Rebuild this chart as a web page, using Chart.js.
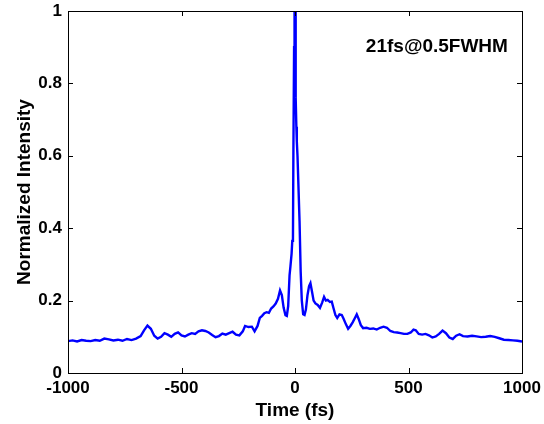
<!DOCTYPE html>
<html>
<head>
<meta charset="utf-8">
<script src="https://cdn.jsdelivr.net/npm/chart.js@4/dist/chart.umd.min.js"></script>
<style>
  html, body { margin: 0; padding: 0; background: #fff; }
  #wrap { width: 544px; height: 424px; }
</style>
</head>
<body>
<div id="wrap"><canvas id="ac-canvas" width="544" height="424"></canvas></div>
<script>
// time delay (fs)
var timeFs = [
  -1000, -980, -960, -940, -920, -900, -880, -860, -840, -820, -800, -780, -760, -740, -720, -700,
  -680, -665, -650, -635, -620, -605, -590, -575, -560, -545, -530, -515, -500, -485, -470, -455,
  -440, -425, -410, -395, -380, -365, -350, -335, -320, -305, -290, -275, -260, -245, -230, -220,
  -205, -190, -178, -165, -155, -145, -135, -125, -115, -105, -95, -85, -75, -66, -58, -50,
  -42, -36, -30, -24, -20, -15, -12, -9, -7, -4, -2, 0, 2, 4, 6, 8,
  11, 15, 20, 25, 30, 36, 42, 48, 55, 62, 68, 74, 82, 90, 100, 110,
  120, 128, 136, 144, 154, 162, 170, 178, 186, 196, 206, 214, 224, 234, 244, 254,
  264, 272, 280, 290, 300, 315, 330, 345, 360, 375, 390, 405, 420, 435, 450, 465,
  480, 495, 510, 522, 532, 545, 560, 575, 590, 605, 620, 635, 650, 665, 680, 695,
  710, 725, 740, 760, 780, 800, 820, 840, 860, 880, 900, 920, 940, 960, 980, 1000
];
// normalized intensity
var intensity = [
  0.088, 0.090, 0.087, 0.091, 0.089, 0.088, 0.091, 0.089, 0.095, 0.093, 0.090, 0.092, 0.089, 0.094, 0.091, 0.095,
  0.102, 0.118, 0.131, 0.122, 0.103, 0.095, 0.100, 0.110, 0.106, 0.100, 0.108, 0.112, 0.104, 0.101, 0.106, 0.110,
  0.108, 0.115, 0.118, 0.116, 0.112, 0.105, 0.099, 0.102, 0.109, 0.106, 0.110, 0.114, 0.106, 0.104, 0.115, 0.130,
  0.127, 0.128, 0.115, 0.130, 0.152, 0.158, 0.165, 0.168, 0.166, 0.178, 0.184, 0.192, 0.205, 0.228, 0.215, 0.180,
  0.160, 0.158, 0.185, 0.270, 0.295, 0.330, 0.365, 0.370, 0.620, 0.900, 1.000, 1.000, 0.840, 0.760, 0.680, 0.640,
  0.600, 0.520, 0.420, 0.280, 0.200, 0.162, 0.160, 0.175, 0.215, 0.240, 0.248, 0.228, 0.200, 0.192, 0.188, 0.180,
  0.195, 0.210, 0.200, 0.202, 0.196, 0.197, 0.178, 0.160, 0.152, 0.162, 0.160, 0.150, 0.135, 0.122, 0.130, 0.140,
  0.152, 0.162, 0.150, 0.132, 0.124, 0.125, 0.122, 0.123, 0.120, 0.125, 0.128, 0.125, 0.116, 0.113, 0.112, 0.110,
  0.108, 0.108, 0.112, 0.120, 0.118, 0.108, 0.106, 0.108, 0.104, 0.098, 0.101, 0.108, 0.117, 0.110, 0.098, 0.094,
  0.103, 0.107, 0.102, 0.101, 0.103, 0.101, 0.099, 0.100, 0.102, 0.100, 0.096, 0.092, 0.091, 0.090, 0.089, 0.087
];
var xTicks = [-1000, -500, 0, 500, 1000];
var yTicks = [0, 0.2, 0.4, 0.6, 0.8, 1];
var noteText = '21fs@0.5FWHM';

var points = timeFs.map(function (t, i) { return { x: t, y: intensity[i] }; });
var boldFont = "'Liberation Sans', Arial, sans-serif";

// box around the plot with inward ticks, plus the FWHM note
var frame = {
  id: 'frame',
  afterDraw: function (chart) {
    var c = chart.ctx, a = chart.chartArea;
    var xs = chart.scales.x, ys = chart.scales.y;
    c.save();
    c.strokeStyle = '#000';
    c.lineWidth = 1;
    c.strokeRect(a.left + 0.5, a.top + 0.5, a.right - a.left, a.bottom - a.top);
    c.beginPath();
    xTicks.forEach(function (v) {
      var px = Math.round(xs.getPixelForValue(v)) + 0.5;
      c.moveTo(px, a.bottom); c.lineTo(px, a.bottom - 5);
      c.moveTo(px, a.top); c.lineTo(px, a.top + 5);
    });
    yTicks.forEach(function (v) {
      var py = Math.round(ys.getPixelForValue(v)) + 0.5;
      c.moveTo(a.left, py); c.lineTo(a.left + 5, py);
      c.moveTo(a.right, py); c.lineTo(a.right - 5, py);
    });
    c.stroke();
    c.fillStyle = '#000';
    c.font = 'bold 19px ' + boldFont;
    c.textAlign = 'center';
    c.textBaseline = 'middle';
    c.fillText(noteText, xs.getPixelForValue(625), ys.getPixelForValue(0.9));
    c.restore();
  }
};

new Chart(document.getElementById('ac-canvas'), {
  type: 'line',
  data: {
    datasets: [{
      data: points,
      borderColor: '#0000ff',
      borderWidth: 2.4,
      pointRadius: 0,
      tension: 0,
      fill: false
    }]
  },
  options: {
    responsive: false,
    animation: false,
    layout: { autoPadding: false, padding: { top: 11, right: 22, left: 0, bottom: 0 } },
    plugins: { legend: { display: false }, tooltip: { enabled: false } },
    scales: {
      x: {
        type: 'linear',
        min: -1000, max: 1000,
        afterBuildTicks: function (s) { s.ticks = xTicks.map(function (v) { return { value: v }; }); },
        afterFit: function (s) { s.height = 51; s.paddingLeft = 0; s.paddingRight = 0; },
        grid: { display: false, drawTicks: false },
        border: { display: false },
        ticks: { color: '#000', padding: 5, maxRotation: 0, font: { family: boldFont, size: 17, weight: 'bold' },
                 callback: function (v) { return String(v); } },
        title: { display: true, text: 'Time (fs)', color: '#000', padding: { top: 0, bottom: 2 },
                 font: { family: boldFont, size: 19, weight: 'bold' } }
      },
      y: {
        min: 0, max: 1,
        afterBuildTicks: function (s) { s.ticks = yTicks.map(function (v) { return { value: v }; }); },
        afterFit: function (s) { s.width = 68; s.paddingTop = 0; s.paddingBottom = 0; },
        grid: { display: false, drawTicks: false },
        border: { display: false },
        ticks: { color: '#000', padding: 6, font: { family: boldFont, size: 17, weight: 'bold' },
                 callback: function (v) { return String(v); } },
        title: { display: true, text: 'Normalized Intensity', color: '#000', padding: { top: 13, bottom: 0 },
                 font: { family: boldFont, size: 19, weight: 'bold' } }
      }
    }
  },
  plugins: [frame]
});
</script>
</body>
</html>
